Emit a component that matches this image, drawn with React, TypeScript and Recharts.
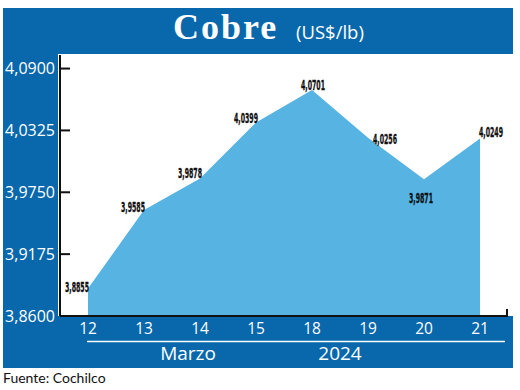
import { AreaChart, Area, XAxis, YAxis, LabelList } from 'recharts';

const days = ['12', '13', '14', '15', '18', '19', '20', '21'];
const prices = [3.8855, 3.9585, 3.9878, 4.0399, 4.0701, 4.0256, 3.9871, 4.0249];
const yTicks = [3.86, 3.9175, 3.975, 4.0325, 4.09];
const yTickLabels = ['3,8600', '3,9175', '3,9750', '4,0325', '4,0900'];

// label placement relative to each point: [dx, dy of baseline]
const labelOffsets = [
  [-11, 3],
  [-11, 1.5],
  [-10, -1],
  [-10, 1],
  [1, 0.5],
  [17, 6],
  [-3, 23.5],
  [11, -2],
];

const data = days.map((d, i) => ({ day: d, precio: prices[i] }));

const BLUE = '#0967ac';
const AREA = '#56b3e2';

const fmt = (v: number) => v.toFixed(4).replace('.', ',');

const renderLabel = (props: any) => {
  const { x, y, index, value } = props;
  const [dx, dy] = labelOffsets[index] || [0, 0];
  return (
    <text
      x={x + dx}
      y={y + dy}
      textAnchor="middle"
      fontFamily="'Liberation Sans Narrow', 'DejaVu Sans Condensed', sans-serif"
      fontWeight="bold"
      fontSize={14}
      fill="#111"
      stroke="#111"
      strokeWidth={0.35}
      textLength={24}
      lengthAdjust="spacingAndGlyphs"
    >
      {fmt(value)}
    </text>
  );
};

export default function App() {
  return (
    <div style={{ position: 'absolute', left: 0, top: 0, width: 520, height: 390, background: '#fff', fontFamily: "'Open Sans', sans-serif" }}>
      <div style={{ position: 'absolute', left: 3, top: 8, width: 510, height: 360, background: BLUE }} />
      <div style={{ position: 'absolute', left: 58, top: 54, width: 462, height: 262, background: '#fff' }} />

      <div style={{ position: 'absolute', left: 0, top: 0 }}>
        <AreaChart width={520} height={390} data={data} margin={{ top: 55, right: 12, bottom: 0, left: 0 }}>
          <XAxis
            dataKey="day"
            padding={{ left: 28, right: 28 }}
            interval={0}
            tickLine={false}
            tickSize={0}
            tickMargin={7}
            height={74}
            axisLine={{ stroke: '#111', strokeWidth: 2 }}
            tick={{ fill: '#fff', fontSize: 15.5, fontFamily: "'Open Sans', sans-serif" }}
          />
          <YAxis
            type="number"
            domain={[3.86, 4.1026]}
            ticks={yTicks}
            width={60}
            tickSize={-10}
            tickMargin={15}
            tickLine={{ stroke: '#111', strokeWidth: 2 }}
            axisLine={{ stroke: '#111', strokeWidth: 2 }}
            tickFormatter={(v: number) => yTickLabels[yTicks.indexOf(v)] ?? fmt(v)}
            tick={{ fill: '#fff', fontSize: 16, fontFamily: "'Open Sans', sans-serif" }}
            allowDataOverflow
          />
          <Area
            type="linear"
            dataKey="precio"
            stroke="none"
            fill={AREA}
            fillOpacity={1}
            isAnimationActive={false}
            dot={false}
            activeDot={false}
          >
            <LabelList dataKey="precio" content={renderLabel} />
          </Area>
        </AreaChart>
      </div>

      <div style={{ position: 'absolute', left: 506, top: 309, width: 2, height: 7, background: '#111' }} />

      <svg width={520} height={390} style={{ position: 'absolute', left: 0, top: 0, pointerEvents: 'none' }}>
        <text x={173} y={39} fill="#fff" fontFamily="'Liberation Serif', serif" fontWeight="bold" fontSize={36} letterSpacing={2}>
          Cobre
        </text>
        <text x={296} y={38.5} fill="#fff" fontFamily="'Open Sans', sans-serif" fontSize={18.5}>
          (US$/lb)
        </text>
        <line x1={87} x2={505} y1={341.5} y2={341.5} stroke="#fff" strokeWidth={1.3} />
        <text x={188} y={360} fill="#fff" fontFamily="'Open Sans', sans-serif" fontSize={19} textAnchor="middle">
          Marzo
        </text>
        <text x={340} y={360} fill="#fff" fontFamily="'Open Sans', sans-serif" fontSize={19} textAnchor="middle">
          2024
        </text>
        <text x={3} y={383} fill="#111" fontFamily="Lato, sans-serif" fontSize={14}>
          Fuente: Cochilco
        </text>
      </svg>
    </div>
  );
}
